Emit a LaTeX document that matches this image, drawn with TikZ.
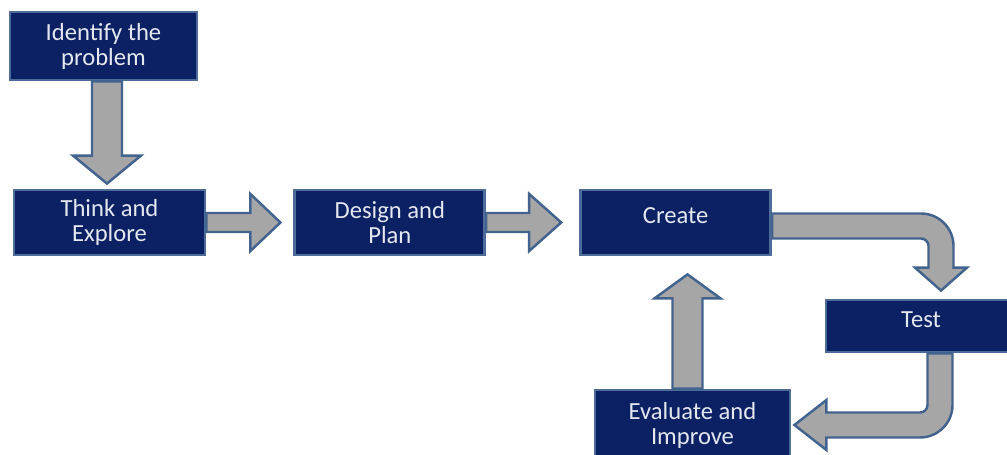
\documentclass[tikz,border=0pt]{standalone}
\usepackage{fontspec}
\setmainfont{Carlito}
\usetikzlibrary{calc,positioning}

\definecolor{boxfill}{HTML}{0B2163}
\definecolor{boxline}{HTML}{4E6C9A}
\definecolor{arrfill}{HTML}{A6A6A6}
\definecolor{arrline}{HTML}{43638F}
\definecolor{boxtext}{HTML}{E4E7F0}

% block arrow: from, to, shaft half width, head half width, head length
\newcommand{\fatarrow}[5]{%
	\coordinate (fa-s) at #1;
	\coordinate (fa-t) at #2;
	\coordinate (fa-h) at ($(fa-t)!#5!(fa-s)$);
	\draw[fat arrow] ($(fa-s)!#3!90:(fa-t)$) -- ($(fa-h)!#3!-90:(fa-s)$)
		-- ($(fa-h)!#4!-90:(fa-s)$) -- (fa-t) -- ($(fa-h)!#4!90:(fa-s)$)
		-- ($(fa-h)!#3!90:(fa-s)$) -- ($(fa-s)!#3!-90:(fa-t)$) -- cycle;}

\begin{document}
\begin{tikzpicture}[line join=miter]
	  \tikzstyle{stage}=[draw=boxline,fill=boxfill,line width=1.6pt,text=boxtext,align=center,
	                     minimum width=3.8cm,minimum height=1.3cm,inner sep=2pt,
	                     font=\fontsize{14}{14.2}\selectfont]
	  \tikzstyle{one line}=[text depth=0.27cm]
	  \tikzstyle{fat arrow}=[draw=arrline,fill=arrfill,line width=1.4pt]

	  \useasboundingbox (0,0) rectangle (20.14,-9.1);

	  \node[stage,minimum width=3.74cm,minimum height=1.36cm] (identify) at (2.07,-0.92) {Identify the\\problem};
	  \node[stage,minimum width=3.82cm] (think) at (2.19,-4.45) {Think and\\Explore};
	  \node[stage]         (design) [right=1.74cm of think]   {Design and\\Plan};
	  \node[stage,one line] (create) [right=1.86cm of design] {Create};
	  \node[stage,one line,minimum height=1.04cm] (test) at (18.42,-6.52) {Test};
	  \node[stage,minimum width=3.9cm,minimum height=1.4cm] (evaluate) at (13.85,-8.5) {Evaluate and\\Improve};

	  \coordinate (up) at ([xshift=-0.1cm]evaluate.north);
	  \fatarrow{([xshift=0.07cm]identify.south)}{([xshift=-0.05cm,yshift=0.1cm]think.north)}{0.3cm}{0.68cm}{0.56cm}
	  \fatarrow{(think.east)}{([xshift=-0.26cm]design.west)}{0.19cm}{0.57cm}{0.6cm}
	  \fatarrow{(design.east)}{([xshift=-0.36cm]create.west)}{0.19cm}{0.57cm}{0.64cm}
	  \fatarrow{(up)}{($(up|-create.south)+(0,-0.36)$)}{0.3cm}{0.66cm}{0.48cm}

	  % bent arrows round the right side
	  \coordinate (tc) at ([yshift=-0.07cm]create.east);
	  \coordinate (ct) at ([xshift=0.4cm,yshift=0.16cm]test.north);
	  \draw[fat arrow] ($(tc)+(0,0.25)$) -- ($(ct|-tc)+(-0.4,0.25)$) arc[start angle=90,end angle=0,radius=0.65]
	  	-- ($(ct)+(0.25,0.46)$) -- ($(ct)+(0.52,0.46)$) -- (ct) -- ($(ct)+(-0.52,0.46)$) -- ($(ct)+(-0.25,0.46)$)
	  	-- ($(ct|-tc)+(-0.25,-0.4)$) arc[start angle=0,end angle=90,radius=0.15] -- ($(tc)+(0,-0.25)$) -- cycle;

	  \coordinate (te) at ([xshift=0.38cm]test.south);
	  \coordinate (et) at ([xshift=0.06cm]evaluate.east);
	  \draw[fat arrow] ($(te)+(0.25,0)$) -- ($(te|-et)+(0.25,0.4)$) arc[start angle=0,end angle=-90,radius=0.65]
	  	-- ($(et)+(0.64,-0.25)$) -- ($(et)+(0.64,-0.5)$) -- (et) -- ($(et)+(0.64,0.5)$) -- ($(et)+(0.64,0.25)$)
	  	-- ($(te|-et)+(-0.4,0.25)$) arc[start angle=-90,end angle=0,radius=0.15] -- ($(te)+(-0.25,0)$) -- cycle;
	\end{tikzpicture}
\end{document}
